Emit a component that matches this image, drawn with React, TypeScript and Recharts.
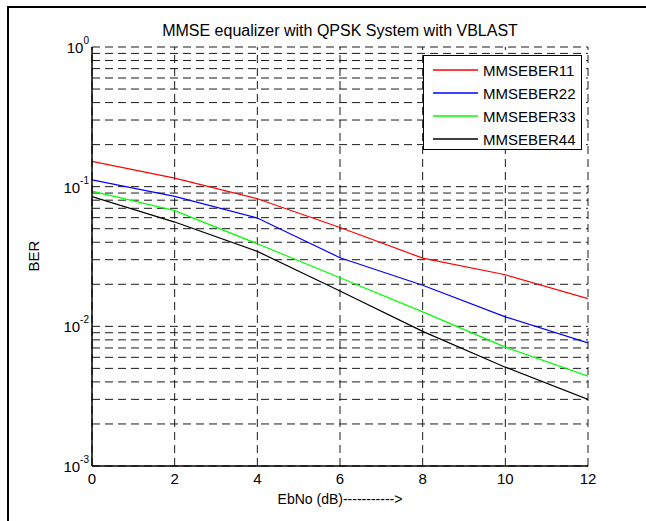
import { LineChart, Line, XAxis, YAxis, ReferenceLine } from 'recharts';

const ebNo = [0, 2, 4, 6, 8, 10, 12];
const mmseBer11 = [0.152, 0.115, 0.082, 0.051, 0.0308, 0.0234, 0.0158];
const mmseBer22 = [0.112, 0.0853, 0.0596, 0.031, 0.0197, 0.0117, 0.0076];
const mmseBer33 = [0.093, 0.0673, 0.039, 0.0223, 0.0127, 0.0071, 0.0044];
const mmseBer44 = [0.085, 0.0558, 0.0344, 0.0179, 0.0092, 0.0051, 0.003];

const xTicks = [0, 2, 4, 6, 8, 10, 12];
const yTicks = [0.001, 0.01, 0.1, 1];
const yGrid = [
  0.001, 0.002, 0.003, 0.004, 0.005, 0.006, 0.007, 0.008, 0.009,
  0.01, 0.02, 0.03, 0.04, 0.05, 0.06, 0.07, 0.08, 0.09,
  0.1, 0.2, 0.3, 0.4, 0.5, 0.6, 0.7, 0.8, 0.9, 1,
];

const series = [
  { key: 'ber11', name: 'MMSEBER11', color: '#ff0000', values: mmseBer11 },
  { key: 'ber22', name: 'MMSEBER22', color: '#0000ff', values: mmseBer22 },
  { key: 'ber33', name: 'MMSEBER33', color: '#00ff00', values: mmseBer33 },
  { key: 'ber44', name: 'MMSEBER44', color: '#000000', values: mmseBer44 },
];

const data = ebNo.map((x, i) => {
  const row: Record<string, number> = { x };
  series.forEach(s => { row[s.key] = s.values[i]; });
  return row;
});

const FONT = '"Liberation Sans", Arial, Helvetica, sans-serif';
const GRID = '#1a1a1a';

const YTick = ({ x, y, payload }: any) => {
  const exp = Math.round(Math.log10(payload.value));
  return (
    <text x={x} y={y} textAnchor="end" fill="#000" fontSize={15} fontFamily={FONT}>
      <tspan dy={6}>10</tspan>
      <tspan dy={-9} fontSize={10}>{exp}</tspan>
    </text>
  );
};

export default function App() {
  return (
    <div style={{ position: 'absolute', left: 0, top: 0, width: 646, height: 521, background: '#fff', overflow: 'hidden', fontFamily: FONT }}>
      <div style={{ position: 'absolute', left: 7, top: 6, width: 700, height: 600, borderLeft: '2px solid #000', borderTop: '2px solid #000' }} />
      <LineChart width={646} height={521} data={data} margin={{ top: 47, right: 58, bottom: 0, left: 0 }}>
        <XAxis
          dataKey="x" type="number" domain={[0, 12]} ticks={xTicks}
          height={55} tickSize={0} tickMargin={7} allowDataOverflow
          axisLine={{ stroke: '#000', strokeWidth: 1.5 }}
          tick={{ fontSize: 15, fill: '#000', fontFamily: FONT }}
        />
        <XAxis xAxisId="top" orientation="top" type="number" domain={[0, 12]} height={0} tick={false} tickLine={false} axisLine={{ stroke: '#000', strokeWidth: 1.5 }} />
        <YAxis
          type="number" scale="log" domain={[0.001, 1]} ticks={yTicks} allowDataOverflow
          width={92} tickSize={0} tickMargin={3}
          axisLine={{ stroke: '#000', strokeWidth: 1.5 }} tick={<YTick />}
        />
        <YAxis yAxisId="right" orientation="right" type="number" domain={[0, 1]} width={0} tick={false} tickLine={false} axisLine={{ stroke: '#000', strokeWidth: 1.5 }} />
        {yGrid.map(v => (
          <ReferenceLine key={'h' + v} y={v} stroke={GRID} strokeDasharray="8 5" strokeWidth={1} />
        ))}
        {xTicks.map(v => (
          <ReferenceLine key={'v' + v} x={v} stroke={GRID} strokeDasharray="8 5" strokeWidth={1} />
        ))}
        {series.map(s => (
          <Line key={s.key} type="linear" dataKey={s.key} name={s.name} stroke={s.color} strokeWidth={1.2} dot={false} isAnimationActive={false} />
        ))}
      </LineChart>
      <div style={{ position: 'absolute', left: 0, width: 646, top: 22, textAlign: 'center', fontSize: 16, paddingLeft: 34, boxSizing: 'border-box' }}>
        MMSE equalizer with QPSK System with VBLAST
      </div>
      <div style={{ position: 'absolute', left: 0, width: 646, top: 491, textAlign: 'center', fontSize: 14, paddingLeft: 34, boxSizing: 'border-box' }}>
        EbNo (dB)-----------&gt;
      </div>
      <div style={{ position: 'absolute', left: 33, top: 256, fontSize: 15, transform: 'translate(-50%, -50%) rotate(-90deg)' }}>
        BER
      </div>
      <div style={{ position: 'absolute', left: 423, top: 55, width: 159, height: 95, background: '#fff', border: '1px solid #000', boxSizing: 'border-box' }}>
        {series.map((s, i) => (
          <div key={s.key} style={{ position: 'absolute', left: 9, top: 4 + i * 23, height: 20, display: 'flex', alignItems: 'center' }}>
            <svg width={45} height={4} style={{ display: 'block' }}>
              <line x1={0} y1={2} x2={45} y2={2} stroke={s.color} strokeWidth={1.3} />
            </svg>
            <span style={{ marginLeft: 5, fontSize: 15, color: '#000' }}>{s.name}</span>
          </div>
        ))}
      </div>
    </div>
  );
}
